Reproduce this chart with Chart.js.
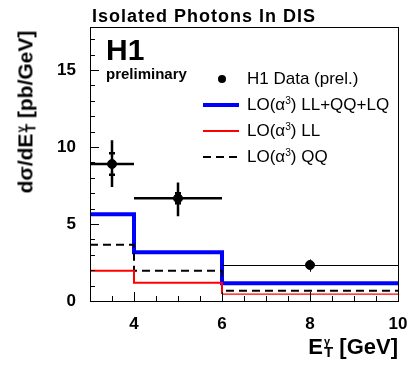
<!DOCTYPE html>
<html>
<head>
<meta charset="utf-8">
<script src="https://cdn.jsdelivr.net/npm/chart.js@4"></script>
<style>
  body { margin: 0; background: #fff; }
  #wrap { position: relative; width: 419px; height: 373px; font-family: "Liberation Sans", Arial, sans-serif; color: #000; }
  canvas { position: absolute; left: 0; top: 0; }
  .txt { position: absolute; white-space: nowrap; line-height: 1; }
  .b { font-weight: bold; }
  .leg { position: absolute; left: 200px; font-size: 17px; line-height: 1; white-space: nowrap; }
  .leg .mk { position: absolute; left: 3px; width: 36px; }
  .leg .lb { position: absolute; left: 47px; top: -9px; }
  .ss { display: inline-flex; flex-direction: column; vertical-align: middle; line-height: 0.85; margin-left: 1px; }
  sup { font-size: 0.6em; vertical-align: 0.55em; line-height: 0; }
</style>
</head>
<body>
<div id="wrap">
  <canvas id="c" width="419" height="373"></canvas>
  <div class="txt b" style="left:92px; top:7px; font-size:18px; letter-spacing:1px;">Isolated Photons In DIS</div>
  <div class="txt b" style="left:106px; top:35px; font-size:30px;">H1</div>
  <div class="txt b" style="left:106px; top:66px; font-size:15px;">preliminary</div>

  <div class="leg" style="top:79px;"><div class="mk" style="left:18px; top:-4px; width:8px; height:8px; border-radius:50%; background:#000;"></div><div class="lb">H1 Data (prel.)</div></div>
  <div class="leg" style="top:105px;"><div class="mk" style="top:-2px; height:4px; background:#0000ff;"></div><div class="lb">LO(&alpha;<sup>3</sup>) LL+QQ+LQ</div></div>
  <div class="leg" style="top:131px;"><div class="mk" style="top:-1px; height:1.5px; background:#ff0000;"></div><div class="lb">LO(&alpha;<sup>3</sup>) LL</div></div>
  <div class="leg" style="top:157px;"><div class="mk" style="top:-1px; height:2px; background:repeating-linear-gradient(90deg,#000 0 8px,transparent 8px 13px);"></div><div class="lb">LO(&alpha;<sup>3</sup>) QQ</div></div>

  <div class="txt b" style="left:26px; top:112px; font-size:21px; transform:translate(-50%,-50%) rotate(-90deg);">d&sigma;/dE<span class="ss" style="font-size:11px;"><span>&gamma;</span><span style="font-size:14px;">T</span></span> [pb/GeV]</div>
  <div class="txt b" style="right:21px; top:336px; font-size:22px;">E<span class="ss" style="font-size:11px;"><span>&gamma;</span><span style="font-size:15px;">T</span></span> [GeV]</div>
</div>
<script>
// bin edges and model predictions
var binEdges = [3, 4, 6, 10]
var predTotal = [5.63, 3.16, 1.15]
var predLL = [1.97, 1.19, 0.45]
var predQQ = [3.66, 1.97, 0.67]

// H1 data points
var dataX = [3.5, 5, 8]
var dataY = [8.9, 6.67, 2.34]
var dataXlo = [3, 4, 6]
var dataXhi = [4, 6, 10]
var statLo = [8.2, 6.35, 2.34]
var statHi = [9.6, 7.0, 2.34]
var totLo = [7.4, 5.5, 1.9]
var totHi = [10.45, 7.7, 2.7]

var xTicks = [4, 6, 8, 10]
var yTicks = [0, 5, 10, 15]

function stepPoints(vals) {
  var pts = []
  for (var i = 0; i < vals.length; i++) pts.push({x: binEdges[i], y: vals[i]})
  pts.push({x: binEdges[binEdges.length - 1], y: vals[vals.length - 1]})
  return pts
}

var framePlugin = {
  id: 'frame',
  afterDatasetsDraw: function(chart) {
    var ctx = chart.ctx, a = chart.chartArea
    var xs = chart.scales.x, ys = chart.scales.y
    ctx.save()
    // error bars
    ctx.strokeStyle = '#000'
    for (var i = 0; i < dataX.length; i++) {
      var thin = i >= 2
      ctx.lineWidth = thin ? 1 : 2.5
      var px = xs.getPixelForValue(dataX[i]), py = ys.getPixelForValue(dataY[i])
      if (thin) { px = Math.round(px) + 0.5; py = Math.round(py) + 0.5 }
      ctx.beginPath()
      ctx.moveTo(xs.getPixelForValue(dataXlo[i]), py)
      ctx.lineTo(xs.getPixelForValue(dataXhi[i]), py)
      ctx.moveTo(px, ys.getPixelForValue(totLo[i]))
      ctx.lineTo(px, ys.getPixelForValue(totHi[i]))
      if (statHi[i] > statLo[i]) {
        ctx.moveTo(px - 3, ys.getPixelForValue(statLo[i]))
        ctx.lineTo(px + 3, ys.getPixelForValue(statLo[i]))
        ctx.moveTo(px - 3, ys.getPixelForValue(statHi[i]))
        ctx.lineTo(px + 3, ys.getPixelForValue(statHi[i]))
      }
      ctx.stroke()
    }
    // frame
    ctx.lineWidth = 1
    ctx.strokeRect(a.left + 0.5, a.top + 0.5, a.right - a.left, a.bottom - a.top)
    // inner ticks
    ctx.beginPath()
    for (var v = 3; v <= 10.001; v += 0.5) {
      var x = Math.round(xs.getPixelForValue(v)) + 0.5
      var len = (v % 2 === 0) ? 9 : 5
      ctx.moveTo(x, a.bottom)
      ctx.lineTo(x, a.bottom - len)
    }
    for (var w = 0; w <= 17; w += 1) {
      var y = Math.round(ys.getPixelForValue(w)) + 0.5
      var l2 = (w % 5 === 0) ? 9 : 5
      ctx.moveTo(a.left, y)
      ctx.lineTo(a.left + l2, y)
    }
    ctx.stroke()
    ctx.restore()
  }
}

var tickFont = {family: '"Liberation Sans", Arial, sans-serif', size: 17, weight: 'bold'}

new Chart(document.getElementById('c'), {
  type: 'line',
  data: {
    datasets: [
      {data: stepPoints(predLL), borderColor: '#ff0000', borderWidth: 2, stepped: 'before', pointRadius: 0, fill: false,
        segment: {borderWidth: function(c) { return c.p0DataIndex >= 2 ? 1.3 : 2 }}},
      {data: stepPoints(predQQ), borderColor: '#000', borderWidth: 2, borderDash: [8, 5], stepped: 'before', pointRadius: 0, fill: false},
      {data: stepPoints(predTotal), borderColor: '#0000ff', borderWidth: 4, stepped: 'before', pointRadius: 0, fill: false},
      {type: 'scatter', data: dataX.map(function(x, i) { return {x: x, y: dataY[i]} }), pointRadius: 4.5, pointBackgroundColor: '#000', pointBorderColor: '#000', showLine: false}
    ]
  },
  options: {
    responsive: false,
    animation: false,
    layout: {padding: {top: 27, right: 21, left: 0, bottom: 0}},
    plugins: {legend: {display: false}, tooltip: {enabled: false}},
    scales: {
      x: {
        type: 'linear', min: 3, max: 10,
        grid: {display: false},
        border: {display: false},
        ticks: {font: tickFont, color: '#000', padding: 5, maxRotation: 0},
        afterBuildTicks: function(s) { s.ticks = xTicks.map(function(v) { return {value: v} }) },
        afterFit: function(s) { s.height = 72 }
      },
      y: {
        type: 'linear', min: 0, max: 17.8,
        grid: {display: false},
        border: {display: false},
        ticks: {font: tickFont, color: '#000', padding: 6},
        afterBuildTicks: function(s) { s.ticks = yTicks.map(function(v) { return {value: v} }) },
        afterFit: function(s) { s.width = 90 }
      }
    }
  },
  plugins: [framePlugin]
})
</script>
</body>
</html>
